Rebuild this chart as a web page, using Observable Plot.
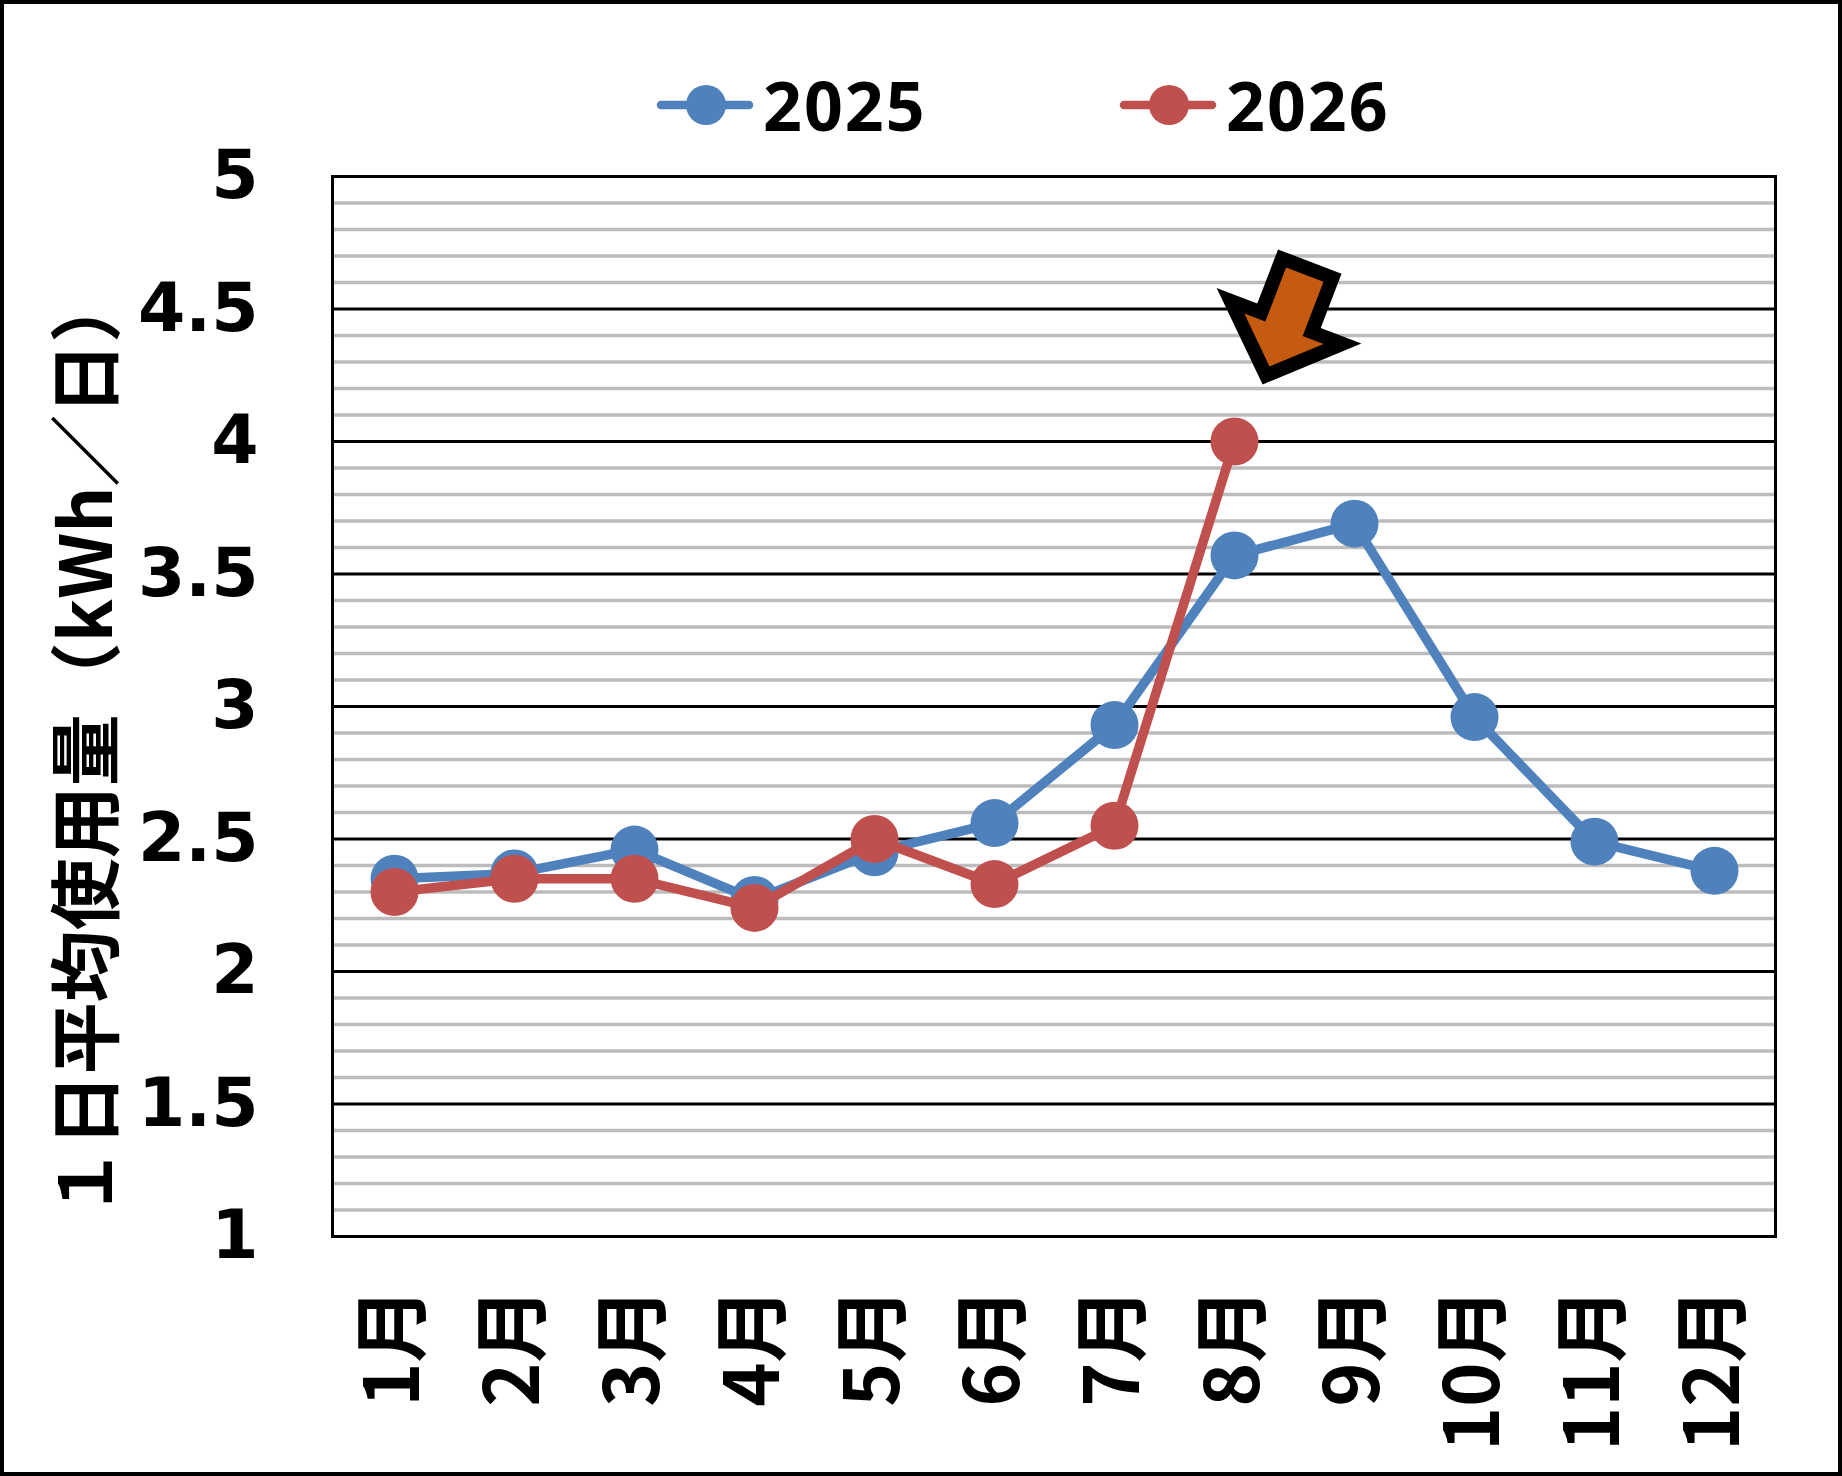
<!DOCTYPE html>
<html>
<head>
<meta charset="utf-8">
<script src="https://cdn.jsdelivr.net/npm/d3@7"></script>
<script src="https://cdn.jsdelivr.net/npm/@observablehq/plot@0.6"></script>
<style>
  html, body { margin: 0; padding: 0; background: #fff; }
  #chart { position: relative; width: 1842px; height: 1476px; box-sizing: border-box; border: 4px solid #000; background: #fff; overflow: hidden; }
  #legend { position: relative; height: 136px; }
  .item { position: absolute; top: 76px; height: 50px; display: flex; align-items: center; }
  .item svg { display: block; }
  .item span { font-family: "Open Sans", "Liberation Sans", sans-serif; font-weight: 700; font-size: 68px; letter-spacing: 2px; line-height: 1; color: #000; margin-left: 6px; }
  #plot svg { display: block; overflow: visible; }
</style>
</head>
<body>
<div id="chart">
  <div id="legend"></div>
  <div id="plot"></div>
</div>
<script>
// ---- data ----
const months = ["1月","2月","3月","4月","5月","6月","7月","8月","9月","10月","11月","12月"];
const usage2025 = [2.35, 2.37, 2.46, 2.27, 2.45, 2.56, 2.93, 3.57, 3.69, 2.96, 2.49, 2.38];
const usage2026 = [2.30, 2.35, 2.35, 2.24, 2.50, 2.33, 2.55, 4.00];
const seriesNames = ["2025", "2026"];
const seriesColors = ["#4f81bd", "#c0504d"];
const yTickValues = [1, 1.5, 2, 2.5, 3, 3.5, 4, 4.5, 5];
const yTitle = "１日平均使用量（kWh／日）";
const arrowNote = [{month: "8月", value: 4.45}];

// ---- derived tables ----
const rows2025 = months.map((m, i) => ({month: m, value: usage2025[i]}));
const rows2026 = usage2026.map((v, i) => ({month: months[i], value: v}));
const minorTicks = d3.range(10, 51).map(d => d / 10).filter(v => Math.abs(v * 2 - Math.round(v * 2)) > 1e-6);

// ---- legend (HTML) ----
const legend = document.getElementById("legend");
const legendLefts = [649, 1112];
seriesNames.forEach((name, i) => {
  const item = document.createElement("div");
  item.className = "item";
  item.style.left = legendLefts[i] + "px";
  item.innerHTML = `<svg width="104" height="50"><line x1="8" y1="25" x2="96" y2="25" stroke="${seriesColors[i]}" stroke-width="8.5" stroke-linecap="round"/><circle cx="53" cy="25" r="20" fill="${seriesColors[i]}"/></svg><span>${name}</span>`;
  legend.appendChild(item);
});

// ---- block arrow symbol ----
const arrowAngle = 21 * Math.PI / 180;
const blockArrow = {
  draw(ctx, size) {
    const s = Math.sqrt(size / Math.PI) / 56;
    const pts = [[-27,-58],[27,-58],[27,0],[60,0],[0,57],[-60,0],[-27,0]];
    const c = Math.cos(arrowAngle), sn = Math.sin(arrowAngle);
    pts.forEach(([px, py], i) => {
      const x = (px * c - py * sn) * s, y = (px * sn + py * c) * s;
      if (i) ctx.lineTo(x, y); else ctx.moveTo(x, y);
    });
    ctx.closePath();
  }
};

const chart = Plot.plot({
  width: 1834,
  height: 1332,
  marginTop: 36,
  marginBottom: 236,
  marginLeft: 328,
  marginRight: 63,
  style: {background: "transparent", overflow: "visible"},
  x: {type: "point", domain: months, padding: 0.5, axis: null},
  y: {domain: [1, 5], axis: null},
  marks: [
    Plot.ruleY(minorTicks, {stroke: "#bcbcbc", strokeWidth: 3.5}),
    Plot.ruleY(yTickValues, {stroke: "#000", strokeWidth: 3}),
    Plot.frame({stroke: "#000", strokeWidth: 3}),
    Plot.text(yTickValues, {y: d => d, text: d => String(d), frameAnchor: "left", textAnchor: "end", dx: -74,
      fontSize: 68, fontWeight: "bold", fontFamily: "DejaVu Sans", fill: "#000"}),
    Plot.text(months, {x: d => d, text: d => d, frameAnchor: "bottom", rotate: -90, textAnchor: "end", lineAnchor: "middle",
      dy: 51, fontSize: 75, fontWeight: "bold", fontFamily: "Noto Sans CJK JP", fill: "#000"}),
    Plot.text([yTitle], {text: d => d, frameAnchor: "left", rotate: -90, textAnchor: "middle", lineAnchor: "middle",
      dx: -244, dy: 38, fontSize: 72, fontWeight: "bold", fontFamily: "Noto Sans CJK JP", fill: "#000"}),
    Plot.line(rows2025, {x: "month", y: "value", stroke: seriesColors[0], strokeWidth: 9.5}),
    Plot.dot(rows2025, {x: "month", y: "value", r: 24, fill: seriesColors[0]}),
    Plot.line(rows2026, {x: "month", y: "value", stroke: seriesColors[1], strokeWidth: 9.5}),
    Plot.dot(rows2026, {x: "month", y: "value", r: 24, fill: seriesColors[1]}),
    Plot.dot(arrowNote, {x: "month", y: "value", dx: 52, r: 56, symbol: blockArrow,
      fill: "#c55a11", stroke: "#000", strokeWidth: 14, strokeLinejoin: "miter"})
  ]
});
document.getElementById("plot").appendChild(chart);
</script>
</body>
</html>
